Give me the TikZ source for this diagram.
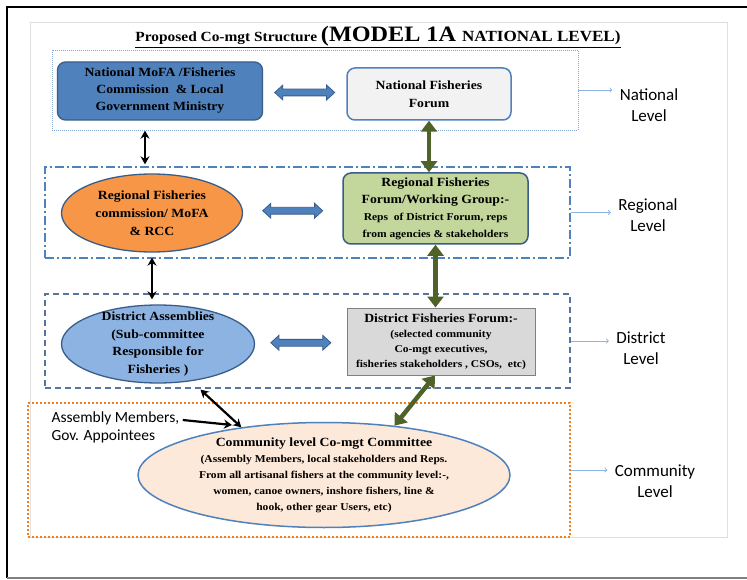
\documentclass[tikz,border=0pt]{standalone}
\usepackage{fontspec}
\setmainfont[FakeStretch=1.1]{Liberation Serif}
\newfontfamily\lblfont{Carlito}
\usepackage{tikz}
\usetikzlibrary{shapes.geometric, shapes.arrows, positioning, arrows, arrows.meta, calc}

\definecolor{boxblue}{HTML}{4F81BD}
\definecolor{edgeblue}{HTML}{385D8A}
\definecolor{forumgray}{HTML}{F2F2F2}
\definecolor{rccorange}{HTML}{F79646}
\definecolor{forumgreen}{HTML}{C3D69B}
\definecolor{dablue}{HTML}{8DB3E2}
\definecolor{dfgray}{HTML}{D9D9D9}
\definecolor{commpeach}{HTML}{FDE9D9}
\definecolor{linkgreen}{HTML}{4F6228}
\definecolor{levelblue}{HTML}{8EB4E3}
\definecolor{frameorange}{HTML}{F07F1E}

\newcommand\smtxt{\fontsize{10.5}{14}\selectfont}

\tikzstyle{natmin} = [rectangle, rounded corners=8, minimum width=205, minimum height=58, align=center, draw=edgeblue, line width=1.3, fill=boxblue, font=\bfseries\fontsize{12.5}{17}\selectfont]
\tikzstyle{natforum} = [rectangle, rounded corners=8, minimum width=164, minimum height=52, align=center, draw=boxblue, line width=1.5, fill=forumgray, font=\bfseries\fontsize{12.5}{18}\selectfont]
\tikzstyle{rcc} = [ellipse, minimum width=181, minimum height=78, inner sep=0, align=center, draw=edgeblue, line width=1.3, fill=rccorange, font=\bfseries\fontsize{12.5}{18}\selectfont]
\tikzstyle{regforum} = [rectangle, rounded corners=8, minimum width=185, minimum height=71, align=center, draw=edgeblue, line width=1.5, fill=forumgreen, font=\bfseries\fontsize{12.5}{17}\selectfont]
\tikzstyle{assembly} = [ellipse, minimum width=193, minimum height=78, inner xsep=0, inner ysep=-7, align=center, draw=edgeblue, line width=1.3, fill=dablue, font=\bfseries\fontsize{12.5}{17.5}\selectfont]
\tikzstyle{distforum} = [rectangle, minimum width=188, minimum height=67, align=center, draw=gray, line width=1, fill=dfgray, font=\bfseries\fontsize{12.5}{15}\selectfont]
\tikzstyle{community} = [ellipse, minimum width=372, minimum height=105, inner xsep=0, inner ysep=-3, align=center, draw=boxblue, line width=1.5, fill=commpeach, font=\bfseries\fontsize{12.5}{16}\selectfont]

\tikzstyle{natframe} = [rectangle, minimum width=526, minimum height=80, draw=boxblue!70, line width=0.8, dash pattern=on 1pt off 1pt]
\tikzstyle{regframe} = [rectangle, minimum width=525, minimum height=91, draw=boxblue, line width=1.3, dash pattern=on 9pt off 3pt on 2pt off 3pt]
\tikzstyle{distframe} = [rectangle, minimum width=525, minimum height=94, draw=edgeblue!85, line width=2, dash pattern=on 6pt off 4pt]
\tikzstyle{commframe} = [rectangle, minimum width=542, minimum height=134, draw=frameorange, line width=2, dash pattern=on 2pt off 2pt]

\tikzstyle{lvl} = [align=center, font=\lblfont\fontsize{17}{21}\selectfont]
\tikzstyle{arrow} = [line width=2.2, <->, >={Stealth[length=8pt,width=9pt]}]
\tikzstyle{greenlink} = [linkgreen, line width=4.5, {Triangle[length=11pt,width=16pt]}-{Triangle[length=11pt,width=16pt]}]
\tikzstyle{blocklink} = [double arrow, draw=edgeblue, fill=boxblue, line width=0.8, minimum height=60, inner sep=3, double arrow head extend=4, double arrow tip angle=85]
\tikzstyle{levelarrow} = [levelblue, line width=0.9, ->, >=to, shorten >=4pt]

\begin{document}
\begin{tikzpicture}[x=1pt, y=-1pt]
\useasboundingbox (0,0) rectangle (747,580);
\fill [white] (0,0) rectangle (747,580);

% page frame
\draw [line width=2] (747,7) -- (7,7) -- (7,578);
\draw [gray, line width=1.5] (7,578) -- (747,578);
\draw [gray!25] (30,22) rectangle (727,537);

\node (title) at (378,37) {\bfseries\underline{\fontsize{14}{16}\selectfont Proposed Co-mgt Structure \fontsize{22}{24}\selectfont(MODEL 1A \fontsize{15.5}{18}\selectfont NATIONAL LEVEL)}};

% level frames
\node (natbox) [natframe] at (315,90) {};
\node (regbox) [regframe] at (307.5,212.5) {};
\node (distbox) [distframe] at (307.5,341) {};
\node (commbox) [commframe] at (299,470) {};

% national
\node (mofa) [natmin] at (160,91) {National MoFA /Fisheries\\Commission~~\& Local\\Government Ministry};
\node (natforum) [natforum] at (429,94) {National Fisheries\\Forum};
\node (link1) [blocklink] at ($(mofa.east)!0.5!(natforum.west)$) {};

% regional
\node (regcomm) [rcc] at (152,213) {Regional Fisheries\\commission/ MoFA\\\& RCC};
\node (regforum) [regforum] at (435.5,208.5) {Regional Fisheries\\Forum/Working Group:-\\\smtxt Reps~~of District Forum, reps\\\smtxt from agencies \& stakeholders};
\node (link2) [blocklink] at ($(regcomm.east)!0.5!(regforum.west)$) {};

% district
\node (distassm) [assembly] at (158,344) {District Assemblies\\(Sub-committee\\Responsible for\\Fisheries )};
\node (distforum) [distforum] at (441,341.5) {District Fisheries Forum:-\\\smtxt(selected community\\\smtxt Co-mgt executives,\\\smtxt fisheries stakeholders , CSOs,~~etc)};
\node (link3) [blocklink] at ($(distassm.east)!0.5!(distforum.west)$) {};

% community
\node (commcomm) [community] at (324,475) {Community level Co-mgt Committee\\\smtxt (Assembly Members, local stakeholders and Reps.\\\smtxt From all artisanal fishers at the community level:-,\\\smtxt women, canoe owners, inshore fishers, line \&\\\smtxt hook, other gear Users, etc)};
\node (asmtext) [anchor=west, align=left, font=\lblfont\fontsize{15.5}{18}\selectfont] at (48,427) {Assembly Members,\\Gov. Appointees};
\coordinate (asmtip) at (232,425);

% level labels
\node (natlabel) [lvl] at (649,105) {National\\Level};
\node (reglabel) [lvl] at (648,215) {Regional\\Level};
\node (distlabel) [lvl] at (641,348) {District\\Level};
\node (commlabel) [lvl] at (655,481) {Community\\Level};

\draw [levelarrow] (natbox.east) -- (natbox.east -| natlabel.west);
\draw [levelarrow] (regbox.east) -- (regbox.east -| reglabel.west);
\draw [levelarrow] (distbox.east) -- (distbox.east -| distlabel.west);
\draw [levelarrow] (commbox.east) -- (commbox.east -| commlabel.west);

% links between levels
\draw [arrow] ([xshift=-15pt,yshift=-10pt]mofa.south) -- ([xshift=-7pt,yshift=9pt]regcomm.north);
\draw [arrow] ([yshift=-5pt]regcomm.south) -- ([yshift=5pt]regcomm.south |- distassm.north);
\draw [arrow] ([yshift=-10pt]distassm.-40) -- (commcomm.150);
\draw [line width=2.2, ->, >={Stealth[length=8pt,width=9pt]}] ([yshift=7pt]asmtext.east) -- (asmtip);

\draw [greenlink] (natforum.south) -- (natforum.south |- regforum.north);
\draw [greenlink] (regforum.south) -- (regforum.south |- distforum.north);
\draw [greenlink] ([xshift=-6pt]distforum.south) -- (commcomm.35);

\end{tikzpicture}
\end{document}
